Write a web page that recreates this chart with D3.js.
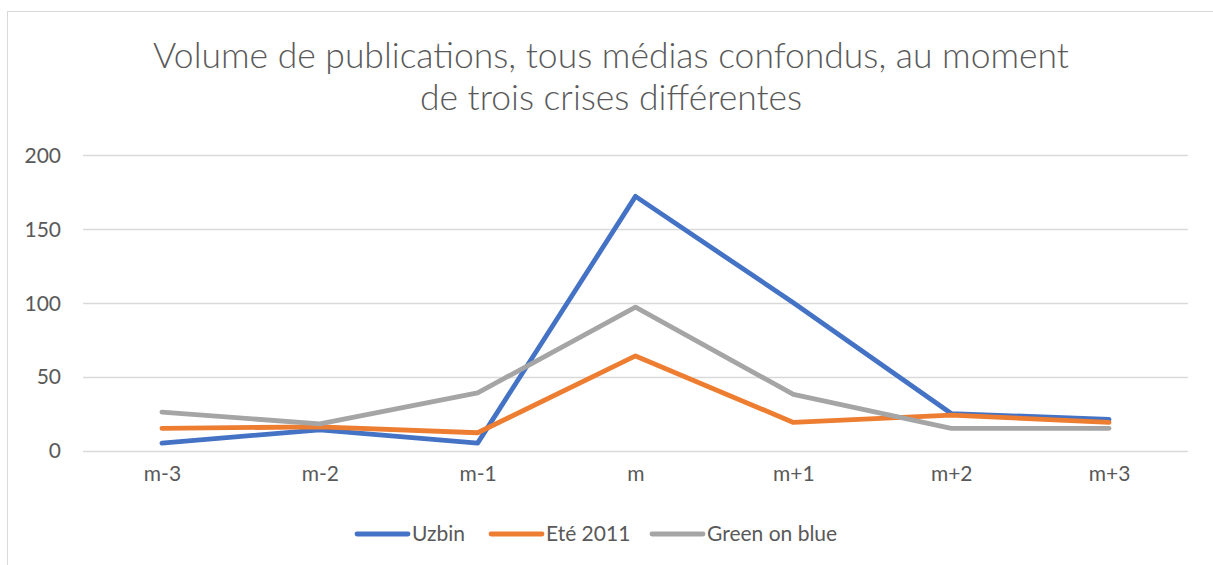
<!DOCTYPE html>
<html>
<head>
<meta charset="utf-8">
<script src="https://cdn.jsdelivr.net/npm/d3@7"></script>
<style>
  html, body { margin: 0; padding: 0; background: #fff; }
  svg { display: block; }
  text { font-family: Lato, "Open Sans", sans-serif; fill: #595959; }
</style>
</head>
<body>
<svg id="chart" width="1213" height="565"></svg>
<script>
// Periods around each crisis
const categories = ["m-3", "m-2", "m-1", "m", "m+1", "m+2", "m+3"];
const seriesNames = ["Uzbin", "Eté 2011", "Green on blue"];
const uzbin = [5, 14, 5, 172, 100, 25, 21];
const ete2011 = [15, 16, 12, 64, 19, 24, 19];
const greenOnBlue = [26, 18, 39, 97, 38, 15, 15];
const yTicks = [0, 50, 100, 150, 200];
const colors = ["#4472C4", "#ED7D31", "#A5A5A5"];
const titleLines = ["Volume de publications, tous médias confondus, au moment", "de trois crises différentes"];

const series = [uzbin, ete2011, greenOnBlue];

const svg = d3.select("#chart");

// Chart frame
svg.append("rect")
  .attr("x", 7.5).attr("y", 11.5)
  .attr("width", 1240).attr("height", 600)
  .attr("fill", "#fff").attr("stroke", "#d9d9d9").attr("stroke-width", 1);

const plot = { left: 83, right: 1188, top: 155, bottom: 450.5 };

const x = d3.scalePoint().domain(categories).range([plot.left, plot.right]).padding(0.5);
const y = d3.scaleLinear().domain([0, 200]).range([plot.bottom, plot.top]);

// Title, sized to its measured width
const title = svg.append("g");
titleLines.forEach((t, i) => {
  title.append("text")
    .attr("x", 611).attr("y", 68 + i * 42)
    .attr("text-anchor", "middle")
    .attr("font-size", 31)
    .attr("font-weight", 300)
    .attr("fill", "#595959")
    .text(t);
});
const first = title.select("text").node();
const w = first.getComputedTextLength();
const fs = 31 * 916 / w;
title.selectAll("text").attr("font-size", fs);

// Horizontal gridlines
svg.append("g")
  .selectAll("line")
  .data(yTicks)
  .join("line")
  .attr("x1", plot.left).attr("x2", plot.right)
  .attr("y1", d => Math.round(y(d)) + 0.5).attr("y2", d => Math.round(y(d)) + 0.5)
  .attr("stroke", "#d9d9d9").attr("stroke-width", 1.5);

// Y axis labels
const yAxis = d3.axisLeft(y).tickValues(yTicks).tickSize(0).tickPadding(0);
const yg = svg.append("g").attr("transform", "translate(61,0)").call(yAxis);
yg.select(".domain").remove();
yg.selectAll("text").attr("font-size", 21).attr("font-family", "Lato, sans-serif").attr("fill", "#595959").attr("dy", "0.35em");

// X axis labels
const xAxis = d3.axisBottom(x).tickSize(0).tickPadding(0);
const xg = svg.append("g").attr("transform", "translate(0,474)").call(xAxis);
xg.select(".domain").remove();
xg.selectAll("text").attr("font-size", 21).attr("font-family", "Lato, sans-serif").attr("fill", "#595959").attr("dy", "0.35em");

// Series lines
const line = d3.line().x((d, i) => x(categories[i])).y(d => y(d));
svg.append("g")
  .selectAll("path")
  .data(series)
  .join("path")
  .attr("d", d => line(d))
  .attr("fill", "none")
  .attr("stroke", (d, i) => colors[i])
  .attr("stroke-width", 4.8)
  .attr("stroke-linecap", "round")
  .attr("stroke-linejoin", "round");

// Legend
const legendX = [357, 491, 652];
const lg = svg.append("g");
seriesNames.forEach((name, i) => {
  lg.append("line")
    .attr("x1", legendX[i]).attr("x2", legendX[i] + 51)
    .attr("y1", 534).attr("y2", 534)
    .attr("stroke", colors[i]).attr("stroke-width", 4.8)
    .attr("stroke-linecap", "round");
  lg.append("text")
    .attr("x", legendX[i] + 55).attr("y", 534)
    .attr("dy", "0.35em")
    .attr("font-size", 21)
    .text(name);
});
</script>
</body>
</html>
